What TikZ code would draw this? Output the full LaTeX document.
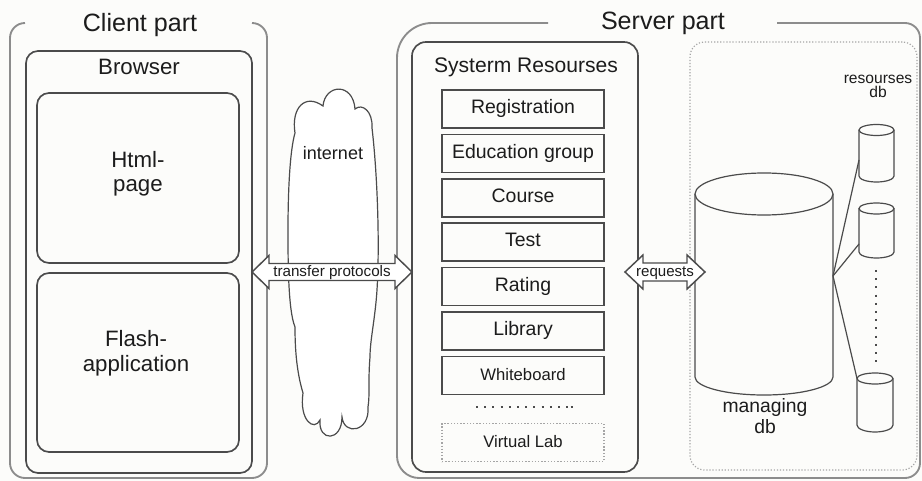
\documentclass[tikz,border=0pt]{standalone}
\usepackage{fontspec}
\setmainfont{Liberation Sans}
\usetikzlibrary{calc}
\definecolor{bg}{RGB}{252,252,250}
\definecolor{outerc}{RGB}{140,140,140}
\definecolor{boxc}{RGB}{75,75,75}
\definecolor{txt}{RGB}{28,28,28}
\definecolor{dotc}{RGB}{165,165,165}
\newcommand\dbcyl[7]{% name, x1, x2, ytop, ybot, rytop, rybot
  \fill[bg] (#2,#4) -- (#2,#5) arc[start angle=180,end angle=0,x radius={(#3-#2)/2},y radius=#7] -- (#3,#4) -- cycle;
  \draw[cyl] (#2,#4) -- (#2,#5) arc[start angle=180,end angle=0,x radius={(#3-#2)/2},y radius=#7] -- (#3,#4);
  \draw[cyl,fill=bg] ({(#2+#3)/2},#4) ellipse[x radius={(#3-#2)/2},y radius=#6];
  \coordinate (#1) at ({(#2+#3)/2},{(#4+#5)/2});
}
\newcommand\dblarrow[5]{% left tip, right tip, head length, head half height, shaft half height
  \draw[arr] (#1) -- ++(#3,-#4) -- ++(0,{#4-#5}) -- ($(#2)+(-#3,-#5)$) -- ++(0,{-(#4-#5)}) -- (#2)
    -- ++(-#3,#4) -- ++(0,{-(#4-#5)}) -- ($(#1)+(#3,#5)$) -- ++(0,{#4-#5}) -- cycle;
}
\begin{document}
\begin{tikzpicture}[x=0.75pt,y=-0.75pt,
  outer/.style={draw=outerc,line width=1.4pt},
  bx/.style={draw=boxc,line width=1.25pt,rounded corners=9pt,inner sep=0pt,outer sep=0pt},
  sz/.style 2 args={minimum width=#1*0.75pt,minimum height=#2*0.75pt},
  item/.style={draw=boxc,line width=1.15pt,inner sep=0pt,outer sep=0pt,minimum width=162*0.75pt,minimum height=38*0.75pt,
    text height=0.716em,text depth=0pt,text=txt,font=\fontsize{14.6}{17}\selectfont},
  lbl/.style={text=txt,inner sep=0pt},
  cyl/.style={draw=boxc,line width=0.9pt},
  arr/.style={draw=boxc,line width=1.1pt,fill=white},
  hdots/.style={draw=boxc,line width=1.5pt,dash pattern=on 1.5pt off 4.65pt},
  fdots/.style={draw=dotc,line width=0.9pt,dash pattern=on 0.9pt off 1.4pt},
]
\useasboundingbox (0,0) rectangle (922,481);
\fill[bg] (0,0) rectangle (922,481);

% ---------- client part ----------
\draw[outer] (25,23) arc[start angle=270,end angle=180,radius=15] -- (10,463)
  arc[start angle=180,end angle=90,radius=15] -- (252,478)
  arc[start angle=90,end angle=0,radius=15] -- (267,38)
  arc[start angle=0,end angle=-90,radius=15];
\node[lbl,anchor=base,font=\fontsize{18.8}{22}\selectfont] (clientlbl) at (140,32) {Client part};

\node[bx,sz={226}{422}] (browser) at (139,262) {};
\node[lbl,anchor=base,font=\fontsize{16.7}{18}\selectfont] (browserlbl) at (139,75) {Browser};
\node[bx,sz={202}{170}] (html) at (138,178) {};
\node[lbl,align=center,font=\fontsize{16.7}{18}\selectfont] (htmllbl) at (138,174.2) {Html-\\page};
\node[bx,sz={202}{179}] (flash) at (138,362.5) {};
\node[lbl,align=center,font=\fontsize{16.7}{18.75}\selectfont] (flashlbl) at (136,353.7) {Flash-\\application};

% ---------- server part ----------
\draw[outer] (548,23) -- (432,23) arc[start angle=270,end angle=180,radius=35] -- (397,456)
  arc[start angle=180,end angle=90,radius=22] -- (905,478)
  arc[start angle=90,end angle=0,radius=15] -- (920,38)
  arc[start angle=0,end angle=-90,radius=15] -- (777,23);
\node[lbl,anchor=base,font=\fontsize{18.8}{22}\selectfont] (serverlbl) at (663,30) {Server part};

\node[bx,sz={226}{430},rounded corners=10.5pt] (sysres) at (525,257) {};
\node[lbl,anchor=base,font=\fontsize{15.8}{18}\selectfont] (sysreslbl) at (526,73) {Systerm Resourses};
\foreach \nm/\tx/\yy in {reg/Registration/109,edu/Education group/153.4,course/Course/197.8,
    test/Test/242.2,rating/Rating/286.6,library/Library/331}
  \node[item] (\nm) at (523,\yy) {\tx};
\node[item,font=\fontsize{12.5}{15}\selectfont] (wb) at (523,375.5) {Whiteboard};
\draw[hdots] (476,407) -- (568.5,407);
\draw[draw=boxc,line width=1.5pt] (570.5,407) -- (572.5,407);
\node[item,draw=dotc,dash pattern=on 1pt off 1.4pt,font=\fontsize{12.5}{15}\selectfont] (vlab) at (523,442.5) {Virtual Lab};

% ---------- databases ----------
\node[fdots,rounded corners=11pt,inner sep=0pt,outer sep=0pt,sz={227}{428}] (dbreg) at (803.5,256) {};
\node[lbl,align=center,font=\fontsize{11.7}{10.8}\selectfont] (reslbl) at (878,86.5) {resourses\\db};

\dbcyl{mdb}{695}{833}{194}{377}{21}{18}
\coordinate (mdbhub) at (833,276);
\coordinate (mdbW) at (695,272);
\node[lbl,align=center,font=\fontsize{14.5}{15.75}\selectfont] (mdblbl) at (765,416.4) {managing\\db};

\dbcyl{rdbA}{859}{894}{130}{176}{5.5}{6}
\dbcyl{rdbB}{859}{894}{208.5}{252}{5.5}{6}
\dbcyl{rdbC}{857}{893}{378.5}{425}{5.5}{7}
\coordinate (rdbAw) at (859,160);
\coordinate (rdbBw) at (859,244);
\coordinate (rdbCw) at (857,378.5);
\draw[cyl] (mdbhub) -- (rdbAw);
\draw[cyl] (mdbhub) -- (rdbBw);
\draw[cyl] (mdbhub) -- (rdbCw);
\draw[hdots] (876,270) -- (876,367);

% ---------- internet cloud ----------
\draw[draw=boxc,line width=0.9pt,fill=white] (295,133)
  .. controls (291,108) and (305,93) .. (323,106)
  .. controls (325,84) and (353,82) .. (355,109)
  .. controls (362,103) and (373,111) .. (372,128)
  .. controls (377,170) and (380,240) .. (377,290)
  .. controls (375,320) and (370,340) .. (370,357)
  .. controls (368,380) and (370,395) .. (368,407)
  .. controls (370,432) and (344,436) .. (342,417)
  .. controls (342,442) and (318,442) .. (320,420)
  .. controls (314,432) and (299,420) .. (303,393)
  .. controls (296,370) and (295,345) .. (295,327)
  .. controls (288,310) and (288,260) .. (288,230)
  .. controls (288,190) and (290,150) .. (295,133) -- cycle;
\node[lbl,anchor=base,font=\fontsize{13.5}{15}\selectfont] (netlbl) at (333,160) {internet};

% ---------- arrows ----------
\coordinate (row) at (0,272);
\coordinate (tpL) at (browser.east |- row);
\coordinate (tpR) at (sysres.west |- row);
\dblarrow{tpL}{tpR}{17}{16.5}{8.5}
\node[lbl,text height=0.73em,text depth=0pt,font=\fontsize{11.4}{13}\selectfont] (tplbl) at ($(tpL)!0.5!(tpR)$) {transfer protocols};

\coordinate (rqL) at ($(sysres.east |- row)+(-13,0)$);
\coordinate (rqR) at ($(mdbW)+(10,0)$);
\dblarrow{rqL}{rqR}{18}{17}{9}
\node[lbl,text height=0.73em,text depth=0pt,font=\fontsize{11.3}{13}\selectfont] (rqlbl) at ($(rqL)!0.5!(rqR)$) {requests};
\end{tikzpicture}
\end{document}
